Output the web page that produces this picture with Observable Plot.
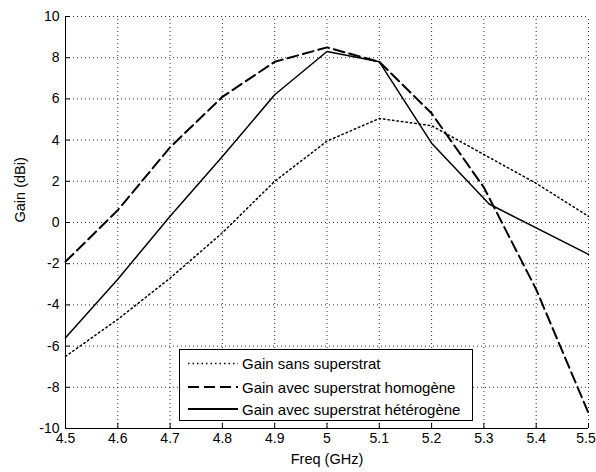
<!DOCTYPE html>
<html><head><meta charset="utf-8">
<script src="https://cdn.jsdelivr.net/npm/d3@7"></script>
<script src="https://cdn.jsdelivr.net/npm/@observablehq/plot@0.6"></script>
<style>
body{margin:0;background:#fff;font-family:"Liberation Sans",Arial,sans-serif;}
#wrap{position:relative;width:596px;height:472px;}
#legend{position:absolute;left:179px;top:349px;width:292px;height:70px;background:#fff;border:1px solid #000;}
</style></head>
<body><div id="wrap"></div>
<script>
const freq = [4.5,4.6,4.7,4.8,4.9,5.0,5.1,5.2,5.3,5.4,5.5];
const gainSans = [-6.5,-4.7,-2.7,-0.5,2.0,3.95,5.05,4.7,3.3,1.9,0.3];
const gainHomogene = [-1.9,0.6,3.65,6.1,7.8,8.5,7.8,5.3,1.7,-3.25,-9.25];
const freqHetero = [4.5,4.6,4.7,4.8,4.9,5.0,5.1,5.2,5.31,5.5];
const gainHeterogene = [-5.6,-2.75,0.3,3.2,6.2,8.3,7.8,3.85,0.9,-1.55];
const xTicks = [4.5,4.6,4.7,4.8,4.9,5,5.1,5.2,5.3,5.4,5.5];
const yTicks = [-10,-8,-6,-4,-2,0,2,4,6,8,10];
const seriesNames = ["Gain sans superstrat","Gain avec superstrat homogène","Gain avec superstrat hétérogène"];
const dashes = ["1.5,3","11,5",null];

const sans = freq.map((f,i)=>({f, g:gainSans[i]}));
const homo = freq.map((f,i)=>({f, g:gainHomogene[i]}));
const hetero = freqHetero.map((f,i)=>({f, g:gainHeterogene[i]}));

const chart = Plot.plot({
  width:596, height:472,
  marginLeft:65, marginRight:8, marginTop:16, marginBottom:44,
  style:{fontFamily:'"Liberation Sans",Arial,sans-serif', fontSize:"14px", background:"#fff", color:"#000"},
  x:{domain:[4.5,5.5]},
  y:{domain:[-10,10]},
  marks:[
    Plot.ruleX(xTicks.slice(1), {x:d=>d, y1:-10, y2:10, stroke:"#333", strokeDasharray:"1,3", strokeWidth:1}),
    Plot.ruleY(yTicks.slice(1), {y:d=>d, x1:4.5, x2:5.5, stroke:"#333", strokeDasharray:"1,3", strokeWidth:1}),
    Plot.ruleX(xTicks, {x:d=>d, y1:-10, y2:-9.75, stroke:"#000"}),
    Plot.ruleY(yTicks, {y:d=>d, x1:4.5, x2:4.5095, stroke:"#000"}),
    Plot.ruleY([-10], {stroke:"#000"}),
    Plot.ruleX([4.5], {stroke:"#000"}),
    Plot.axisX(xTicks.slice(0,-1), {tickSize:0, tickPadding:5, tickFormat:d=>String(d), label:null, fontSize:14}),
    Plot.axisX(xTicks.slice(-1), {tickSize:0, tickPadding:5, tickFormat:d=>String(d), label:null, fontSize:14, dx:-2.5}),
    Plot.axisY(yTicks, {tickSize:0, tickPadding:6, tickFormat:d=>String(d), label:null, fontSize:14}),
    Plot.text(["Freq (GHz)"], {frameAnchor:"bottom", dy:35, fontSize:14.5}),
    Plot.text(["Gain (dBi)"], {frameAnchor:"left", dx:-45, rotate:-90, fontSize:14.5}),
    Plot.line(sans, {x:"f", y:"g", stroke:"#000", strokeWidth:1.5, strokeDasharray:dashes[0]}),
    Plot.line(homo, {x:"f", y:"g", stroke:"#000", strokeWidth:2, strokeDasharray:dashes[1]}),
    Plot.line(hetero, {x:"f", y:"g", stroke:"#000", strokeWidth:1.5})
  ]
});
const wrap = document.getElementById("wrap");
wrap.appendChild(chart);

const lg = document.createElement("div");
lg.id = "legend";
const ns = "http://www.w3.org/2000/svg";
const svg = document.createElementNS(ns,"svg");
svg.setAttribute("width",292); svg.setAttribute("height",70);
svg.style.fontFamily='"Liberation Sans",Arial,sans-serif';
svg.style.display="block";
const rowsY = [13.5, 37, 59];
seriesNames.forEach((name,i)=>{
  const l = document.createElementNS(ns,"line");
  l.setAttribute("x1",8); l.setAttribute("x2",58);
  l.setAttribute("y1",rowsY[i]); l.setAttribute("y2",rowsY[i]);
  l.setAttribute("stroke","#000");
  l.setAttribute("stroke-width", i===0?1.5:2);
  if (dashes[i]) l.setAttribute("stroke-dasharray", dashes[i]);
  svg.appendChild(l);
  const t = document.createElementNS(ns,"text");
  t.setAttribute("x",62); t.setAttribute("y",rowsY[i]+5.5);
  t.setAttribute("font-size",15);
  t.textContent = name;
  svg.appendChild(t);
});
lg.appendChild(svg);
wrap.appendChild(lg);
</script></body></html>
